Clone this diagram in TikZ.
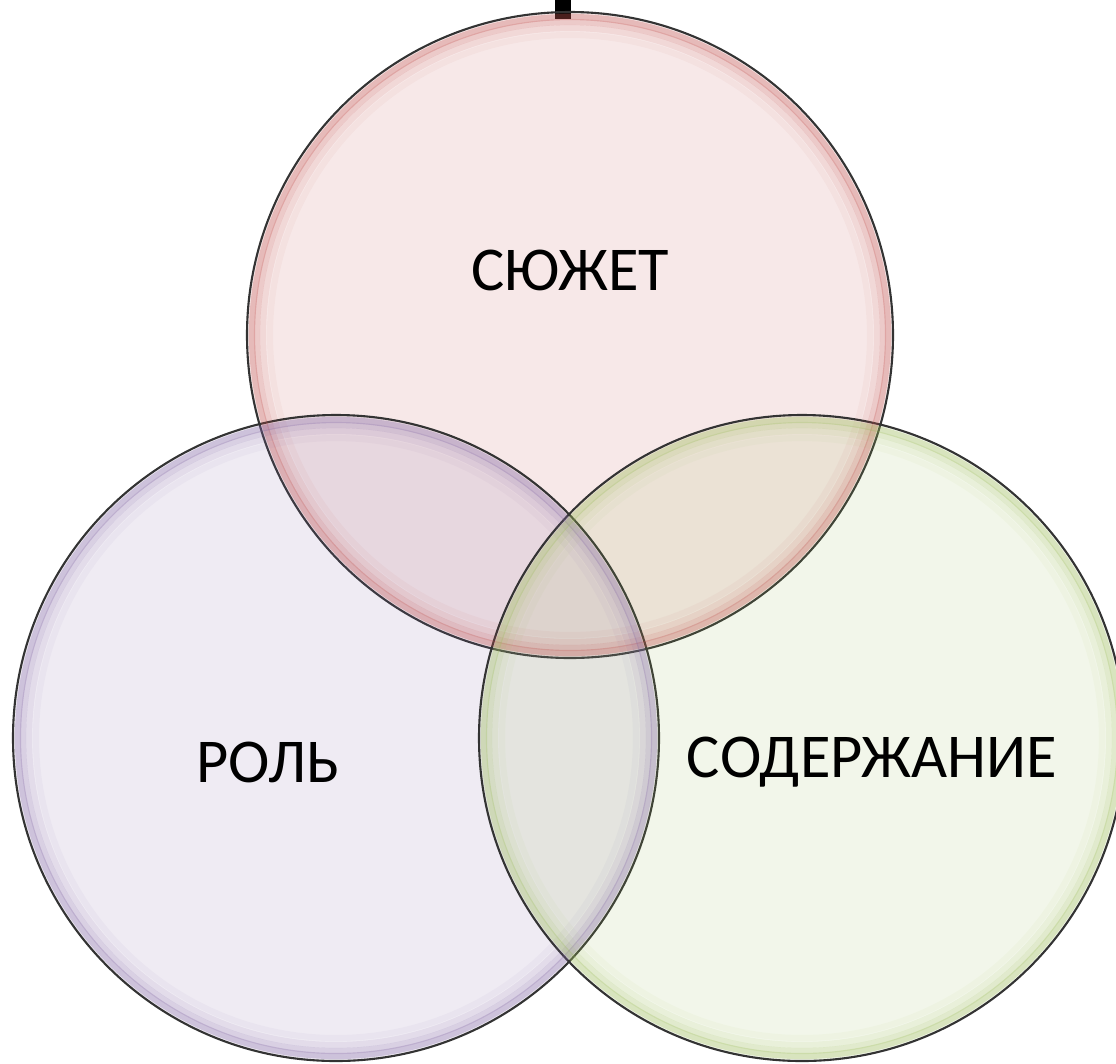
\documentclass[tikz,border=0pt]{standalone}
\usepackage{fontspec}
\setmainfont{Carlito}
\usetikzlibrary{positioning,calc}

\definecolor{plotR}{HTML}{C0504D}
\definecolor{plotP}{HTML}{8064A2}
\definecolor{plotG}{HTML}{9BBB59}

\begin{document}
\begin{tikzpicture}
  [x=0.02cm,y=-0.02cm,
   setN/.style={circle,draw=black!80,line width=1.2pt,minimum size=646*0.02cm,inner sep=0pt,
                fill=#1,fill opacity=0.13,text opacity=1},
   rimL/.style={draw=#1,line width=3.5pt},
   labelN/.style={font=\fontsize{35.5}{40}\selectfont,text=black}]

  \useasboundingbox (0,0) rectangle (1116,1063);

  % title stub clipped at the top
  \fill[black] (555,0) rectangle (571,19);

  \node[setN=plotR] (plot)    at (570,335) {};
  \node[setN=plotP] (role)    at (336,738) {};
  \node[setN=plotG] (content) at (802,738) {};

  % soft inner glow along each rim
  \foreach \s/\c in {plot/plotR,role/plotP,content/plotG}
    \foreach \r/\o in {318/0.30,313/0.20,307/0.11,300/0.05}
      \draw[rimL=\c,draw opacity=\o] (\s) circle[radius=\r];

  \node[labelN] (plotL)    at (570,270) {СЮЖЕТ};
  \node[labelN] (roleL)    at (268,762) {РОЛЬ};
  \node[labelN] (contentL) at (872,762) {СОДЕРЖАНИЕ};

\end{tikzpicture}
\end{document}
